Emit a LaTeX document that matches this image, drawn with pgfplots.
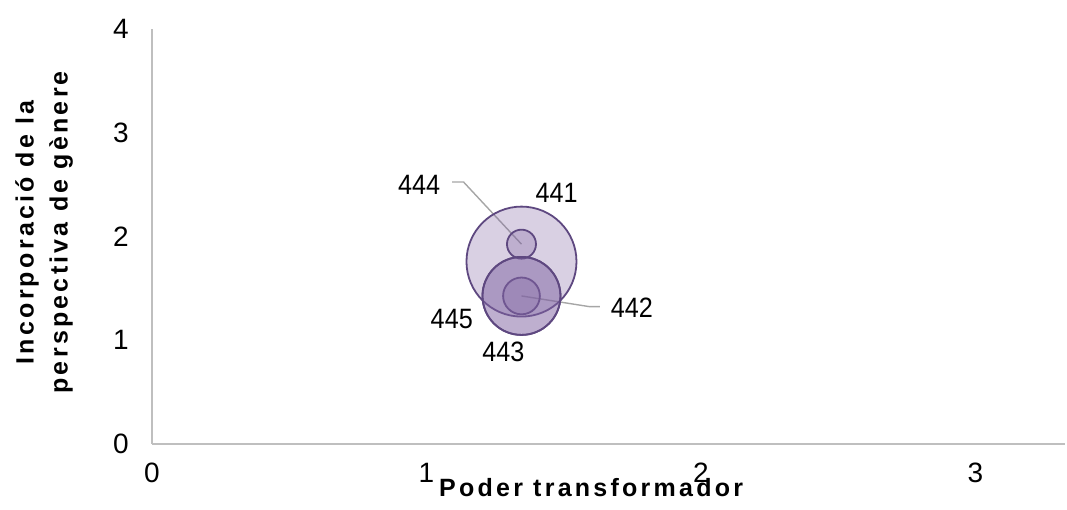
\documentclass[border=0pt]{standalone}
\usepackage{fontspec}
\setmainfont{Liberation Sans}
\newfontfamily\titlefont[LetterSpace=13]{Liberation Sans}
\usepackage{pgfplots}
\pgfplotsset{compat=1.18}
\definecolor{bub}{RGB}{128,100,162}
\definecolor{bubline}{RGB}{94,72,128}
\definecolor{axgray}{RGB}{191,191,191}
\definecolor{leader}{RGB}{166,166,166}

\begin{document}
\begin{tikzpicture}
\begin{axis}[scale only axis,width=456.5pt,height=207.5pt,
  xmin=0,xmax=3.326,ymin=0,ymax=4,clip=false,
  axis x line=bottom,axis y line=left,axis line style={draw=axgray,line width=0.75pt,-},
  xtick={0,1,2,3},ytick={0,1,2,3,4},major tick length=0pt,
  tick label style={font=\fontsize{14}{16}\selectfont},
  /pgf/number format/assume math mode=true,
  xticklabel style={anchor=center,yshift=-14.25pt},
  yticklabel style={anchor=east,inner sep=0pt,xshift=-11.5pt}]
% bubbles, drawn in series order 441..445 (radius in pt)
\addplot[only marks,mark=*,mark size=27.5pt,mark options={fill=bub,fill opacity=0.3,draw=bubline,line width=0.9pt}] coordinates {(1.346,1.758)};
\addplot[only marks,mark=*,mark size=9.2pt,mark options={fill=bub,fill opacity=0.3,draw=bubline,line width=0.9pt}] coordinates {(1.346,1.427)};
\addplot[only marks,mark=*,mark size=19.5pt,mark options={fill=bub,fill opacity=0.3,draw=bubline,line width=0.9pt}] coordinates {(1.346,1.427)};
\addplot[only marks,mark=*,mark size=7.25pt,mark options={fill=bub,fill opacity=0.3,draw=bubline,line width=0.9pt}] coordinates {(1.346,1.926)};
\addplot[only marks,mark=*,mark size=19.5pt,mark options={fill=bub,fill opacity=0.3,draw=bubline,line width=0.9pt}] coordinates {(1.346,1.427)};
% leader lines
\draw[leader,line width=0.7pt] (axis cs:1.093,2.525) -- (axis cs:1.135,2.525) -- (axis cs:1.346,1.926);
\draw[leader,line width=0.7pt] (axis cs:1.632,1.324) -- (axis cs:1.593,1.324) -- (axis cs:1.346,1.427);
% data labels
\begin{scope}[every node/.style={font=\fontsize{14}{16}\selectfont,inner sep=0pt,xscale=0.9}]
\node at (axis cs:1.474,2.418) {441};
\node at (axis cs:0.973,2.498) {444};
\node at (axis cs:1.748,1.309) {442};
\node at (axis cs:1.092,1.202) {445};
\node at (axis cs:1.280,0.890) {443};
\end{scope}
% axis titles
\path (rel axis cs:0.481,0) ++(0,-26.5pt) node[anchor=base,inner sep=0pt,font=\titlefont\bfseries\fontsize{12.5}{14}\selectfont] {Poder transformador};
\path (rel axis cs:0,0.51) ++(-54pt,0) node[rotate=90,align=center,inner sep=0pt,font=\titlefont\bfseries\fontsize{12.5}{17}\selectfont] {Incorporació de la\\perspectiva de gènere};
\coordinate (sw) at (rel axis cs:0,0);
\coordinate (ne) at (rel axis cs:1,1);
\end{axis}
\pgfresetboundingbox
\path ([shift={(-76pt,-33pt)}]sw) rectangle ([shift={(1pt,14.5pt)}]ne);
\end{tikzpicture}
\end{document}
